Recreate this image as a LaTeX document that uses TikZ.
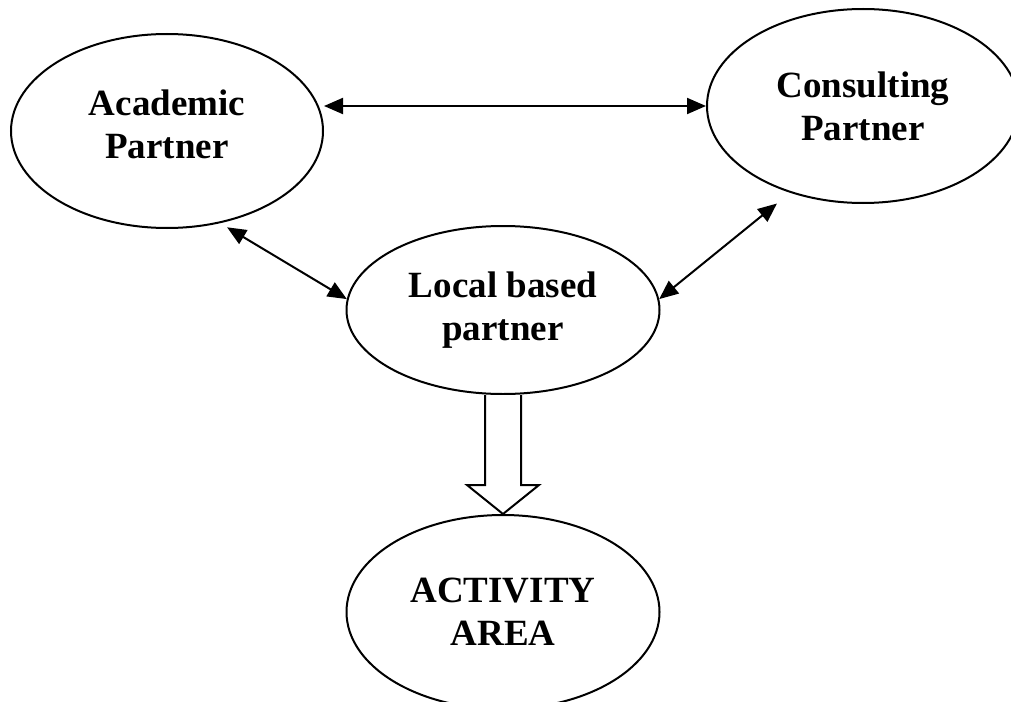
\documentclass[tikz,border=0pt]{standalone}
\usepackage{fontspec}
\setmainfont{Liberation Serif}
\usetikzlibrary{arrows.meta,positioning,calc,shapes.geometric}

\begin{document}
\begin{tikzpicture}[x=0.5pt,y=-0.5pt,>={Triangle[length=9.5pt,width=8pt]},
  partner/.style={ellipse,draw,line width=1pt,inner sep=0pt,align=center,
    font=\fontsize{18.5}{21.5}\selectfont\bfseries},
  link/.style={<->,line width=1pt},
  blockarrow/.style={draw,line width=1pt,line join=miter,fill=white}]
\useasboundingbox (0,0) rectangle (1011,701);
\node[partner,minimum width=156pt,minimum height=97pt] (aca) at (167,131) {Academic\\Partner\rule[-7pt]{0pt}{0pt}};
\node[partner,minimum width=156pt,minimum height=97pt] (con) at (863,106) {Consulting\\Partner};
\node[partner,minimum width=156.5pt,minimum height=84pt] (loc) at (503,310) {Local based\\partner};
\node[partner,minimum width=156.5pt,minimum height=97pt] (act) at (503,612) {ACTIVITY\\AREA};
\draw[link] (aca.east |- con.west)--(con.west);
\draw[link,shorten <=4pt] (aca.-60)--(loc.176);
\draw[link,shorten >=8.5pt] (loc.4)--(con.230);
% hollow arrow down to the activity area
\draw[blockarrow] ($(loc.south)+(-18,0)$) -- ($(act.north)+(-18,-29)$) -- ++(-18,0) -- (act.north)
  -- ($(act.north)+(36,-29)$) -- ++(-18,0) -- ($(loc.south)+(18,0)$);
\end{tikzpicture}
\end{document}
